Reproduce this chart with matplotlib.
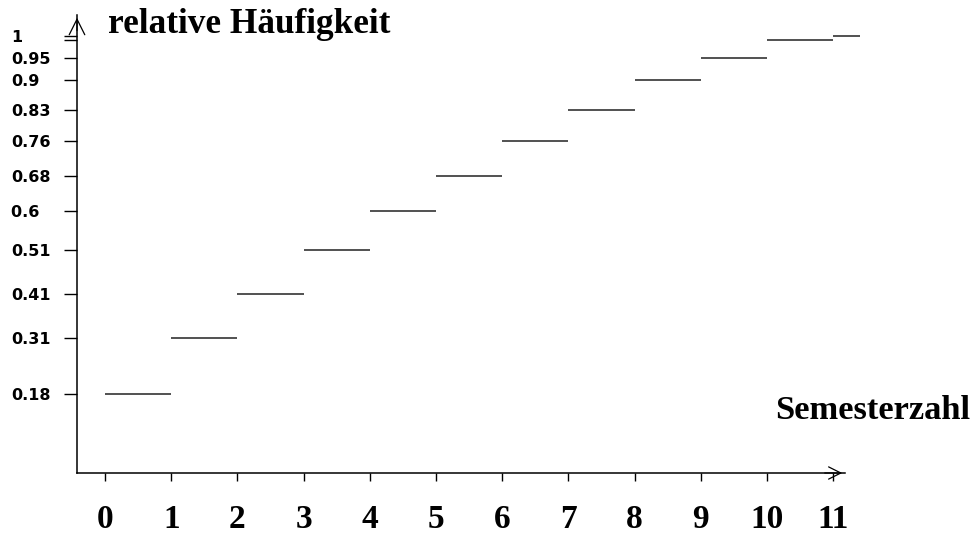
import matplotlib
matplotlib.use("Agg")
import matplotlib.pyplot as plt

# Data: empirical cumulative relative frequency (step function)
semester = [0, 1, 2, 3, 4, 5, 6, 7, 8, 9, 10, 11]
rel_freq = [0.18, 0.31, 0.41, 0.51, 0.60, 0.68, 0.76, 0.83, 0.90, 0.95, 0.99, 1.00]
seg_end = [1, 2, 3, 4, 5, 6, 7, 8, 9, 10, 11, 11.4]
x_ticks = [0, 1, 2, 3, 4, 5, 6, 7, 8, 9, 10, 11]
x_labels = ["0", "1", "2", "3", "4", "5", "6", "7", "8", "9", "10", "11"]
y_ticks = [0.18, 0.31, 0.41, 0.51, 0.60, 0.68, 0.76, 0.83, 0.90, 0.95, 0.99, 1.00]
y_labels = ["0.18", "0.31", "0.41", "0.51", "0.6 ", "0.68", "0.76", "0.83", "0.9", "0.95", "", "1"]

W, H = 973, 536
fig = plt.figure(figsize=(W / 100, H / 100), dpi=100)
L, R, T, B = 77, 845, 15, 473
ax = fig.add_axes([L / W, (H - B) / H, (R - L) / W, (B - T) / H])
ax.set_xlim(-0.423, 11.178)
ax.set_ylim(0, 1.048)

ax.hlines(rel_freq, semester, seg_end, color="#222222", lw=1.1, clip_on=False)

for s in ["top", "right"]:
    ax.spines[s].set_visible(False)
for s in ["left", "bottom"]:
    ax.spines[s].set_linewidth(1.1)
    ax.spines[s].set_color("black")

# arrows
ax.annotate("", xy=(1.0, 0), xytext=(0.97, 0), xycoords="axes fraction",
            arrowprops=dict(arrowstyle="->", lw=0.9, color="black", mutation_scale=22))
ax.annotate("", xy=(0, 1.0), xytext=(0, 0.96), xycoords="axes fraction",
            arrowprops=dict(arrowstyle="->", lw=0.9, color="black", mutation_scale=28))

ax.set_xticks(x_ticks)
ax.set_xticklabels(x_labels, fontfamily="Liberation Serif", fontweight="bold", fontsize=24)
ax.tick_params(axis="x", direction="out", length=6, width=1, pad=16)

ax.set_yticks(y_ticks)
ax.set_yticklabels(y_labels, fontfamily="DejaVu Sans", fontweight="bold", fontsize=11.5)
ax.tick_params(axis="y", direction="out", length=9.5, width=1, pad=38)
for lab in ax.get_yticklabels():
    lab.set_horizontalalignment("left")

fig.text(108 / W, 1 - 33 / H, "relative Häufigkeit", fontfamily="Liberation Serif",
         fontweight="bold", fontsize=25.4, ha="left", va="baseline")
fig.text(970 / W, 1 - 419 / H, "Semesterzahl", fontfamily="Liberation Serif",
         fontweight="bold", fontsize=24.8, ha="right", va="baseline")

fig.savefig("out.png", dpi=100)
